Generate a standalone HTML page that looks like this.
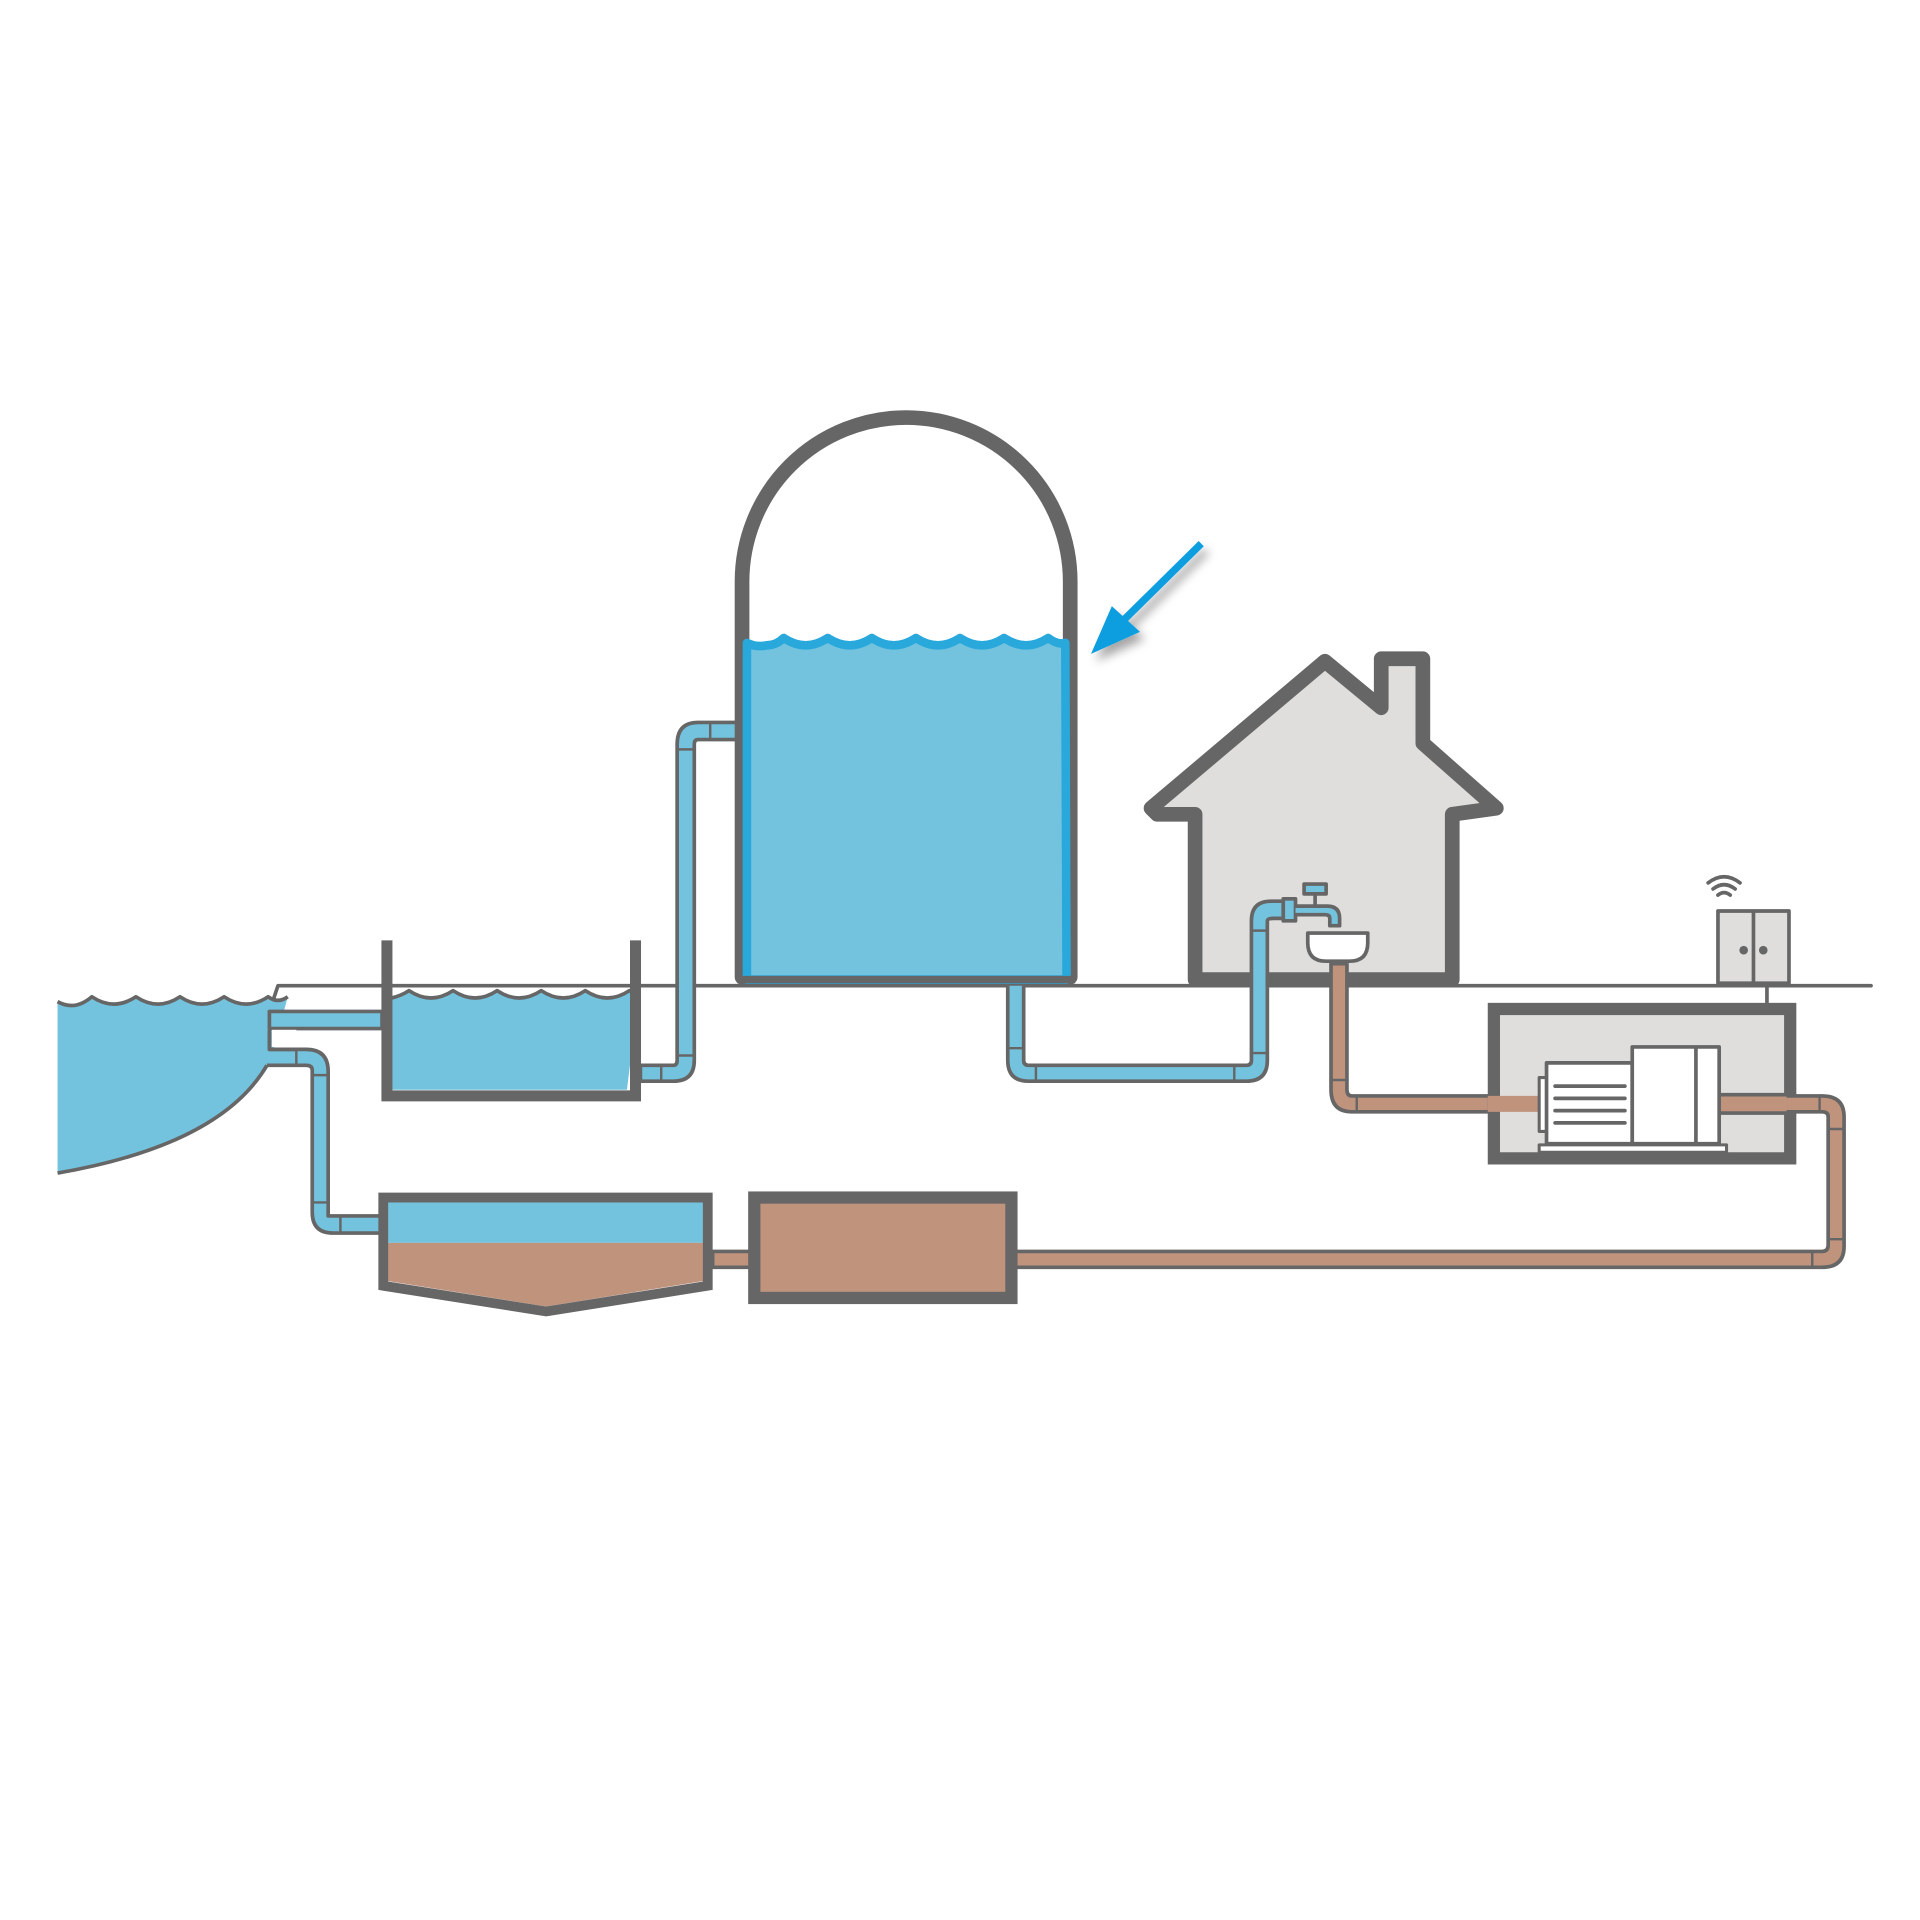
<!DOCTYPE html>
<html><head><style>html,body{margin:0;padding:0;background:#fff}svg{display:block}</style></head>
<body>
<svg width="1920" height="1920" viewBox="0 0 1568 1568" xmlns="http://www.w3.org/2000/svg">
<defs>
<filter id="sh" x="-50%" y="-50%" width="200%" height="200%"><feDropShadow dx="4" dy="6" stdDeviation="4" flood-color="#000" flood-opacity="0.35"/></filter>
</defs>
<g stroke="#666" fill="none" stroke-linejoin="round">
<!-- house -->
<path d="M940,660 L1082,540 L1128,578 L1128,538 L1162,538 L1162,607 L1222,660 L1186,665 L1186,800 L976,800 L976,665 L945,665 Z" fill="#e0dedc" stroke-width="12"/>
<!-- ground line -->
<path d="M220,826 L227,805 L1528,805" stroke-width="3" stroke-linecap="round"/>
<!-- lake -->
<path d="M47,818 q14,8 28,-4 q18,12 36,0 q18,12 36,0 q18,12 36,0 q18,12 36,0 q8,6 16,0 L220,870 Q180,935 47,958 Z" fill="#74c3de" stroke="none"/>
<path d="M47,818 q14,8 28,-4 q18,12 36,0 q18,12 36,0 q18,12 36,0 q18,12 36,0 q8,6 16,0" stroke-width="3"/>
<path d="M218,870 Q180,935 47,958" stroke-width="3"/>
<!-- intake pipes -->
<rect x="220" y="826" width="92" height="14" fill="#74c3de" stroke-width="3"/>
<path d="M220,843 L220,857 L250,857 Q268,857 268,875 L268,993 L312,993 L312,1007 L272,1007 Q255,1007 255,990 L255,874 Q255,870 250,870 L218,870" fill="#74c3de" stroke-width="3"/>
<rect x="222" y="841" width="20" height="14" fill="#fff" stroke="none"/>
<path d="M220,841 L220,857 L242,857" stroke-width="3"/>
<path d="M242,857 L242,870 M255,878 L268,878 M255,982 L268,982 M278,993 L278,1007" stroke-width="2"/>
<!-- tank 1 -->
<path d="M320,815 q8,-2 14,-6 q18,12 36,0 q18,12 36,0 q18,12 36,0 q18,12 36,0 q18,12 36,0 q6,4 8,0 L512,890 L320,890 Z" fill="#74c3de" stroke="none"/>
<path d="M320,815 q8,-2 14,-6 q18,12 36,0 q18,12 36,0 q18,12 36,0 q18,12 36,0 q18,12 36,0 q6,4 8,0" stroke-width="3"/>
<path d="M316,768 L316,895 L519,895 L519,768" stroke-width="9" stroke-linejoin="miter"/>
<!-- pipe tank1 to big tank -->
<path d="M523,870 L550,870 Q553,870 553,866 L553,608 Q553,590 570,590 L603,590 L603,604 L570,604 Q567,604 567,608 L567,866 Q567,883 550,883 L523,883 Z" fill="#74c3de" stroke-width="3"/>
<path d="M540,870 L540,883 M553,862 L567,862 M553,612 L567,612 M580,590 L580,604" stroke-width="2"/>
<!-- big tank -->
<rect x="608" y="524" width="264" height="273" fill="#74c3de" stroke="none"/>
<path d="M606,798 L606,475 A134,134 0 0 1 874,475 L874,798 Z" stroke-width="12"/>
<path d="M610,800 L610,525 q8,4 16,2 q8,0 14,-6 q18,12 36,0 q18,12 36,0 q18,12 36,0 q18,12 36,0 q18,12 36,0 q18,12 36,0 q8,6 14,4 L871,800 Z" fill="#74c3de" stroke="#29a8dc" stroke-width="7"/>
<path d="M602,800 L878,800" stroke-width="6"/>
<!-- arrow -->
<g filter="url(#sh)" stroke="#109ee0" fill="#109ee0">
<line x1="981" y1="444" x2="914" y2="510" stroke-width="6"/>
<path d="M891,534 L908,495 L931,516 Z" stroke="none"/>
</g>
<!-- pipe tank to house -->
<path d="M823,805 L823,866 Q823,883 840,883 L1018,883 Q1035,883 1035,866 L1035,752 Q1035,750 1040,750 L1048,750 L1048,736 L1038,736 Q1022,736 1022,752 L1022,866 Q1022,870 1018,870 L840,870 Q836,870 836,866 L836,805" fill="#74c3de" stroke-width="3"/>
<path d="M823,856 L836,856 M846,870 L846,883 M1008,870 L1008,883 M1022,860 L1035,860 M1022,760 L1035,760" stroke-width="2"/>
<!-- faucet -->
<rect x="1048" y="734" width="10" height="18" fill="#74c3de" stroke-width="3"/>
<path d="M1058,740 L1084,740 Q1094,740 1094,750 L1094,756 L1086,756 L1086,750 Q1086,747 1082,747 L1058,747" fill="#74c3de" stroke-width="3"/>
<rect x="1065" y="722" width="18" height="8" fill="#74c3de" stroke-width="3"/>
<path d="M1074,730 L1074,740" stroke-width="3"/>
<!-- brown pipe -->
<path d="M1087,787 L1087,890 Q1087,908 1104,908 L1258,908 L1258,895 L1104,895 Q1100,895 1100,890 L1100,787 Z" fill="#c0937d" stroke-width="3"/>
<path d="M1087,882 L1100,882 M1108,895 L1108,908" stroke-width="2"/>
<path d="M1068,762 L1117,762 L1117,770 Q1117,785 1102,785 L1083,785 Q1068,785 1068,770 Z" fill="#fff" stroke-width="3"/>
<!-- underground box -->
<rect x="1220" y="824" width="242" height="122" fill="#e0dedc" stroke-width="10" stroke-linejoin="miter"/>
<path d="M1215,895 L1258,895 L1258,908 L1215,908" fill="#c0937d" stroke="none"/>
<path d="M1405,895 L1488,895 Q1506,895 1506,912 L1506,1018 Q1506,1035 1488,1035 L828,1035 L828,1022 L1488,1022 Q1493,1022 1493,1017 L1493,912 Q1493,908 1488,908 L1405,908 Z" fill="#c0937d" stroke-width="3"/>
<path d="M1486,895 L1486,908 M1493,922 L1506,922 M1493,1012 L1506,1012 M1480,1022 L1480,1035" stroke-width="2"/>
<rect x="1405" y="894" width="54" height="16" fill="#c0937d" stroke="none"/>
<path d="M1405,894 L1459,894 M1405,909 L1459,909" stroke-width="3"/>
<!-- pump -->
<rect x="1257" y="880" width="6" height="44" fill="#fff" stroke-width="2.5"/>
<rect x="1263" y="868" width="70" height="66" fill="#fff" stroke-width="3"/>
<rect x="1333" y="855" width="71" height="79" fill="#fff" stroke-width="3"/>
<path d="M1385,855 L1385,934" stroke-width="3"/>
<path d="M1270,887 L1327,887 M1270,897 L1327,897 M1270,907 L1327,907 M1270,917 L1327,917" stroke-width="3" stroke-linecap="round"/>
<rect x="1257" y="935" width="153" height="6" fill="#fff" stroke-width="2.5"/>
<!-- sensor cabinet -->
<path d="M1443,805 L1443,822" stroke-width="3"/>
<rect x="1403" y="744" width="58" height="59" fill="#e0dedc" stroke-width="3"/>
<path d="M1432,744 L1432,803" stroke-width="3"/>
<circle cx="1424" cy="776" r="3.5" fill="#666" stroke="none"/>
<circle cx="1440" cy="776" r="3.5" fill="#666" stroke="none"/>
<path d="M1395,721 Q1408,711 1421,721 M1399,726 Q1408,719 1417,726 M1403,731 Q1408,727 1413,731" stroke-width="3" stroke-linecap="round"/>
<!-- settling tank -->
<path d="M316,980 L575,980 L575,1015 L316,1015 Z" fill="#74c3de" stroke="none"/>
<path d="M316,1015 L575,1015 L575,1046 L446,1067 L316,1046 Z" fill="#c0937d" stroke="none"/>
<path d="M313,978 L578,978 L578,1050 L446,1071 L313,1050 Z" stroke-width="8" stroke-linejoin="miter"/>
<rect x="582" y="1022" width="33" height="13" fill="#c0937d" stroke-width="3"/>
<!-- sludge box -->
<rect x="616" y="978" width="210" height="82" fill="#c0937d" stroke-width="10" stroke-linejoin="miter"/>
</g>
</svg>
</body></html>
